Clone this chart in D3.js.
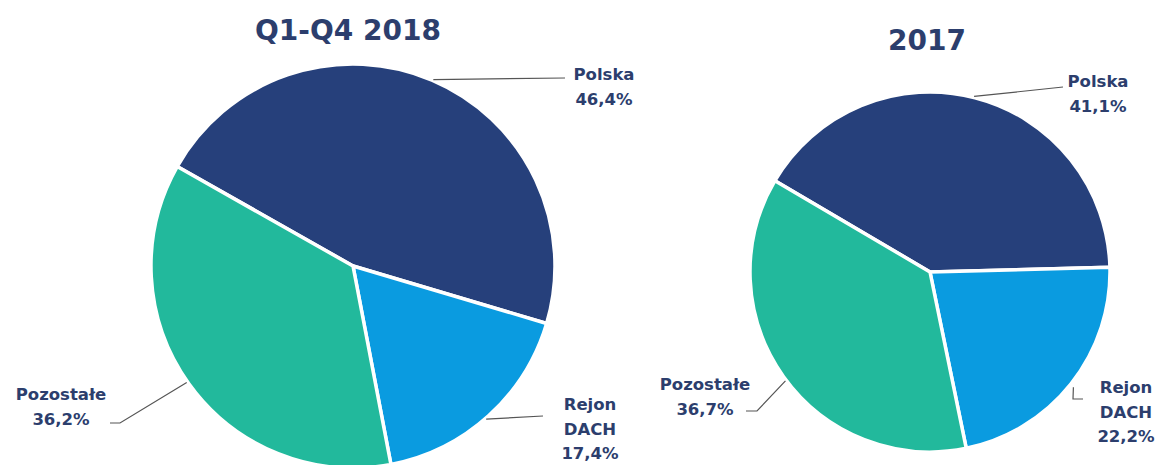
<!DOCTYPE html>
<html>
<head>
<meta charset="utf-8">
<script src="https://cdn.jsdelivr.net/npm/d3@7"></script>
<style>
  body { margin: 0; background: #fff; }
  svg { display: block; font-family: "DejaVu Sans", Verdana, sans-serif; }
</style>
</head>
<body>
<svg id="chart" width="1158" height="465"></svg>
<script>
// data
const categories = ['Polska', 'Rejon DACH', 'Pozostałe']
const values2018 = [46.4, 17.4, 36.2]
const values2017 = [41.1, 22.2, 36.7]
const titles = ['Q1-Q4 2018', '2017']

const colors = d3.scaleOrdinal()
    .domain(categories)
    .range(['#26407b', '#0a9be0', '#22b99c'])

const textColor = '#2c3e6d'
const fmt = v => d3.format('.1f')(v).replace('.', ',') + '%'

const svg = d3.select('#chart')

// layout for each pie: centre, radius, start angle (deg), title position and leader lines
const pies = [
    {
        values: values2018, title: titles[0], cx: 353, cy: 266, r: 202, start: -60.5,
        titleX: 348, titleY: 40,
        labels: [
            { angle: 23.3, pts: [[212, -188]], tx: 251, ty: -186 },
            { angle: 139, pts: [[190, 150]], tx: 237, ty: 144 },
            { angle: -125, pts: [[-233, 157], [-243, 157]], tx: -292, ty: 134 }
        ]
    },
    {
        values: values2017, title: titles[1], cx: 930, cy: 272, r: 180, start: -59.5,
        titleX: 927, titleY: 50,
        labels: [
            { angle: 14.1, pts: [[133, -185]], tx: 168, ty: -185 },
            { angle: 128.8, r: 184, pts: [[143, 127], [153, 127]], tx: 196, ty: 121 },
            { angle: -127, pts: [[-173, 139], [-184, 139]], tx: -225, ty: 118 }
        ]
    }
]

pies.forEach(p => {
    const g = svg.append('g').attr('transform', `translate(${p.cx},${p.cy})`)

    const pie = d3.pie()
        .sort(null)
        .startAngle(p.start * Math.PI / 180)
        .endAngle((p.start + 360) * Math.PI / 180)

    const arc = d3.arc().innerRadius(0).outerRadius(p.r)

    g.selectAll('path')
        .data(pie(p.values))
        .enter().append('path')
        .attr('d', arc)
        .attr('fill', (d, i) => colors(categories[i]))
        .attr('stroke', '#fff')
        .attr('stroke-width', 3.5)
        .attr('stroke-linejoin', 'round')

    // leader lines
    p.labels.forEach((l, i) => {
        const a = l.angle * Math.PI / 180
        const rr = l.r || p.r + 1
        const start = [rr * Math.sin(a), -rr * Math.cos(a)]
        g.append('path')
            .attr('d', d3.line()([start, ...l.pts]))
            .attr('fill', 'none')
            .attr('stroke', '#555')
            .attr('stroke-width', 1.2)

        const lines = categories[i].split(' ').concat([fmt(p.values[i])])
        const t = g.append('text')
            .attr('x', l.tx)
            .attr('y', l.ty)
            .attr('text-anchor', 'middle')
            .attr('fill', textColor)
            .attr('font-size', 16.5)
            .attr('font-weight', 'bold')
        lines.forEach((s, j) => {
            t.append('tspan')
                .attr('x', l.tx)
                .attr('dy', j === 0 ? 0 : 24.5)
                .text(s)
        })
    })

    svg.append('text')
        .attr('x', p.titleX)
        .attr('y', p.titleY)
        .attr('text-anchor', 'middle')
        .attr('fill', textColor)
        .attr('font-size', 28)
        .attr('font-weight', 'bold')
        .text(p.title)
})
</script>
</body>
</html>
